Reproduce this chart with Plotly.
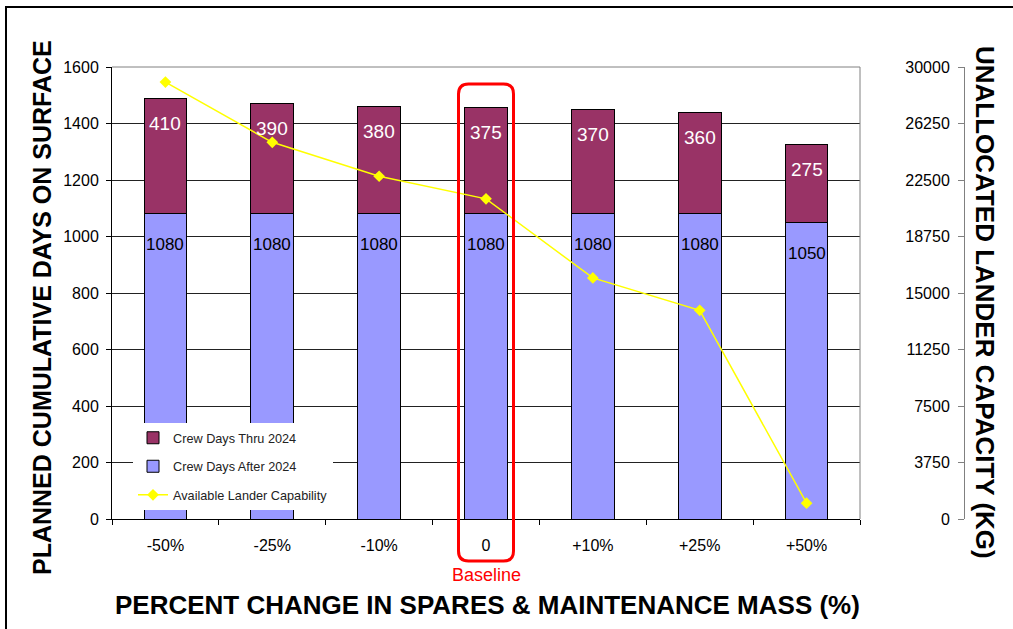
import plotly.graph_objects as go

categories = ["-50%", "-25%", "-10%", "0", "+10%", "+25%", "+50%"]
crew_after_2024 = [1080, 1080, 1080, 1080, 1080, 1080, 1050]
crew_thru_2024 = [410, 390, 380, 375, 370, 360, 275]
lander_capability = [29000, 25000, 22750, 21250, 16000, 13850, 1050]
left_ticks = list(range(0, 1601, 200))
right_ticks = [0, 3750, 7500, 11250, 15000, 18750, 22500, 26250, 30000]

FONT = "Liberation Sans, Arial, sans-serif"
W, H = 1013, 629
ML, MR, MT, MB = 112, 49, 67, 110
PW = W - ML - MR
PH = H - MT - MB
XDOM = 748 / PW

def px_x(px):
    return (px - ML) / PW

def px_y(py):
    return (H - MB - py) / PH

fig = go.Figure()
fig.add_trace(go.Bar(
    x=categories, y=crew_after_2024, name="Crew Days After 2024",
    marker=dict(color="#9999FF", line=dict(color="black", width=1)),
    width=0.4, legendrank=2, legendgroup="b", hoverinfo="skip",
))
fig.add_trace(go.Bar(
    x=categories, y=crew_thru_2024, name="Crew Days Thru 2024",
    marker=dict(color="#993366", line=dict(color="black", width=1)),
    width=0.4, legendrank=1, legendgroup="a", hoverinfo="skip",
))
fig.add_trace(go.Scatter(
    x=categories, y=lander_capability, name="Available Lander Capability",
    yaxis="y2", mode="lines+markers",
    line=dict(color="#FFFF00", width=1.5),
    marker=dict(symbol="diamond", size=9, color="#FFFF00"),
    legendrank=3, legendgroup="c", hoverinfo="skip",
))

annotations = []
for i, (a, t) in enumerate(zip(crew_after_2024, crew_thru_2024)):
    annotations.append(dict(x=i, y=a + t, xref="x", yref="y", text=str(t),
                            showarrow=False, yshift=-25,
                            xanchor="center", yanchor="middle",
                            font=dict(family=FONT, size=19, color="white")))
    annotations.append(dict(x=i, y=a, xref="x", yref="y", text=str(a),
                            showarrow=False, yshift=-31,
                            xanchor="center", yanchor="middle",
                            font=dict(family=FONT, size=17, color="black")))

ci = categories.index("0")
annotations += [
    dict(x=px_x(42), y=px_y(308), xref="paper", yref="paper",
         xanchor="center", yanchor="middle",
         text="<b>PLANNED CUMULATIVE DAYS ON SURFACE</b>", textangle=-90,
         showarrow=False, font=dict(family=FONT, size=25, color="black")),
    dict(x=px_x(985), y=px_y(302), xref="paper", yref="paper",
         xanchor="center", yanchor="middle",
         text="<b>UNALLOCATED LANDER CAPACITY (KG)</b>", textangle=90,
         showarrow=False, font=dict(family=FONT, size=26, color="black")),
    dict(x=px_x(487), y=px_y(605), xref="paper", yref="paper",
         xanchor="center", yanchor="middle",
         text="<b>PERCENT CHANGE IN SPARES &amp; MAINTENANCE MASS (%)</b>",
         showarrow=False, font=dict(family=FONT, size=26, color="black")),
    dict(x=ci, y=px_y(575), xref="x", yref="paper", text="Baseline",
         xanchor="center", yanchor="middle",
         showarrow=False, font=dict(family=FONT, size=18, color="#FF0000")),
]

# rounded red box around baseline category
hw = 27.5 / (748 / len(categories))
x0, x1 = ci - hw, ci + hw
y0, y1 = px_y(561), px_y(84)
rx = 10 / (748 / len(categories))
ry = 10 / PH
path = (f"M {x0+rx},{y1} L {x1-rx},{y1} Q {x1},{y1} {x1},{y1-ry} "
        f"L {x1},{y0+ry} Q {x1},{y0} {x1-rx},{y0} L {x0+rx},{y0} "
        f"Q {x0},{y0} {x0},{y0+ry} L {x0},{y1-ry} Q {x0},{y1} {x0+rx},{y1} Z")

shapes = [
    dict(type="line", xref="x domain", yref="y domain", x0=0, x1=1, y0=1, y1=1,
         line=dict(color="#808080", width=1), layer="above"),
    dict(type="line", xref="x domain", yref="y domain", x0=1, x1=1, y0=0, y1=1,
         line=dict(color="#808080", width=1), layer="above"),
    dict(type="path", xref="x", yref="paper", path=path,
         line=dict(color="#FF0000", width=3), layer="above"),
    dict(type="rect", xref="paper", yref="paper", x0=px_x(6), x1=px_x(1100),
         y0=px_y(700), y1=px_y(7), line=dict(color="black", width=2)),
]

fig.update_layout(
    width=W, height=H,
    margin=dict(l=ML, r=MR, t=MT, b=MB),
    paper_bgcolor="white", plot_bgcolor="white",
    barmode="stack",
    font=dict(family=FONT, color="black"),
    showlegend=True,
    legend=dict(x=px_x(133), y=px_y(423), xanchor="left", yanchor="top",
                bgcolor="white", borderwidth=0, traceorder="grouped",
                tracegroupgap=9,
                font=dict(family=FONT, size=12.7, color="#222")),
    xaxis=dict(type="category", domain=[0, XDOM], showline=True,
               linecolor="black", linewidth=1, ticks="outside",
               tickson="boundaries", ticklen=5, tickcolor="black",
               ticklabelstandoff=12,
               tickfont=dict(family=FONT, size=16, color="black"),
               showgrid=False, fixedrange=True),
    yaxis=dict(range=[0, 1600], tickvals=left_ticks, tickformat="d",
               showline=True, linecolor="black", linewidth=1,
               ticks="outside", ticklen=5, tickcolor="black",
               ticklabelstandoff=4,
               showgrid=True, gridcolor="#222", gridwidth=1, zeroline=False,
               tickfont=dict(family=FONT, size=16, color="black")),
    yaxis2=dict(range=[0, 30000], tickvals=right_ticks, tickformat="d",
                overlaying="y", anchor="free", position=1, side="left",
                showline=True, linecolor="#808080", linewidth=1,
                ticks="outside", ticklen=6, tickcolor="#808080",
                ticklabelstandoff=5,
                showgrid=False, zeroline=False,
                tickfont=dict(family=FONT, size=16, color="black")),
    annotations=annotations,
    shapes=shapes,
)

fig.write_html("out.html", post_script="document.body.style.margin='0';",
               config={"displayModeBar": False})
